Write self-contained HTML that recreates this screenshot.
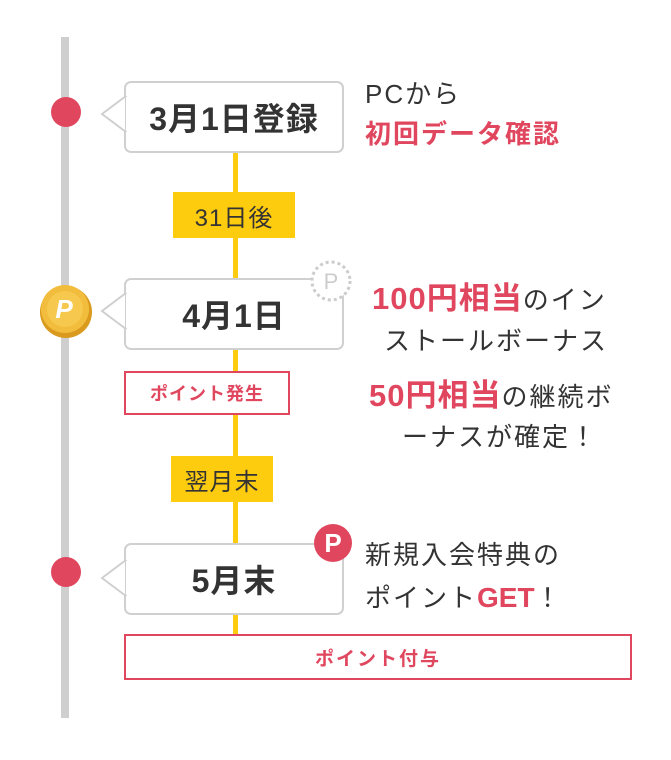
<!DOCTYPE html>
<html><head><meta charset="utf-8"><style>
body{margin:0;width:671px;height:760px;background:#fff;position:relative;overflow:hidden;font-family:"Liberation Sans","Noto Sans CJK JP",sans-serif;color:#333}
.a{position:absolute}
.box{position:absolute;left:124px;width:216px;height:68px;border:2px solid #d0d0d0;border-radius:7px;background:#fff;display:flex;align-items:center;justify-content:center;font-weight:bold;font-size:32px;letter-spacing:1px;color:#333}
.yl{position:absolute;background:#fecc0f;display:flex;align-items:center;justify-content:center;font-size:24px;letter-spacing:1px;color:#333}
.pk{position:absolute;border:2px solid #e0475f;display:flex;align-items:center;justify-content:center;color:#e0475f;font-weight:bold;font-size:19px;letter-spacing:2px;background:#fff}
.t{position:absolute;font-size:26px;color:#333;white-space:nowrap;letter-spacing:2px}
.r{color:#e0475f;font-weight:bold}
</style></head><body>
<div class="a" style="left:61px;top:37px;width:8px;height:681px;background:#cfcfcf"></div>
<div class="a" style="left:233px;top:151px;width:5px;height:484px;background:#fecc0f"></div>

<div class="a" style="left:51px;top:97px;width:30px;height:30px;border-radius:50%;background:#e0475f"></div>
<div class="box" style="top:81px">3月1日登録</div>
<svg class="a" style="left:100px;top:96px" width="28" height="36"><polygon points="26,0 2,18 26,36" fill="#fff" stroke="#d0d0d0" stroke-width="2"/><rect x="26" y="1" width="3" height="34" fill="#fff"/></svg>

<div class="yl" style="left:173px;top:192px;width:122px;height:46px">31日後</div>

<div class="box" style="top:278px">4月1日</div>
<svg class="a" style="left:100px;top:293px" width="28" height="36"><polygon points="26,0 2,18 26,36" fill="#fff" stroke="#d0d0d0" stroke-width="2"/><rect x="26" y="1" width="3" height="34" fill="#fff"/></svg>
<svg class="a" style="left:309px;top:259px" width="44" height="44"><circle cx="22" cy="22" r="19" fill="#fff" stroke="#ccc" stroke-width="3" stroke-dasharray="3 3"/><text x="22" y="30" text-anchor="middle" font-size="22" fill="#ccc" font-family="Liberation Sans">P</text></svg>
<svg class="a" style="left:37px;top:283px" width="58" height="56"><circle cx="29" cy="29" r="26" fill="#d99a1e"/><circle cx="28" cy="26" r="24" fill="#f2bd3c"/><circle cx="28" cy="26" r="18" fill="#f6c94e"/><text x="27" y="35" text-anchor="middle" font-size="26" font-weight="bold" font-style="italic" fill="#fff" font-family="Liberation Sans">P</text></svg>

<div class="pk" style="left:124px;top:371px;width:162px;height:40px;font-size:18px;letter-spacing:1px">ポイント発生</div>
<div class="yl" style="left:171px;top:456px;width:102px;height:46px">翌月末</div>

<div class="a" style="left:51px;top:557px;width:30px;height:30px;border-radius:50%;background:#e0475f"></div>
<div class="box" style="top:543px">5月末</div>
<svg class="a" style="left:100px;top:560px" width="28" height="36"><polygon points="26,0 2,18 26,36" fill="#fff" stroke="#d0d0d0" stroke-width="2"/><rect x="26" y="1" width="3" height="34" fill="#fff"/></svg>
<div class="a" style="left:314px;top:524px;width:38px;height:38px;border-radius:50%;background:#e0475f;color:#fff;font-size:26px;font-weight:bold;text-align:center;line-height:38px">P</div>

<div class="pk" style="left:124px;top:634px;width:504px;height:42px">ポイント付与</div>

<div class="t" style="left:365px;top:74px">PCから</div>
<div class="t r" style="left:365px;top:114px">初回データ確認</div>
<div class="t" style="left:372px;top:273px"><span class="r" style="font-size:31px;letter-spacing:1px">100円相当</span>のイン</div>
<div class="t" style="left:384px;top:321px">ストールボーナス</div>
<div class="t" style="left:369px;top:370px"><span class="r" style="font-size:31px;letter-spacing:1px">50円相当</span>の継続ボ</div>
<div class="t" style="left:402px;top:417px">ーナスが確定！</div>
<div class="t" style="left:365px;top:535px">新規入会特典の</div>
<div class="t" style="left:365px;top:578px">ポイント<span class="r" style="font-size:28px;letter-spacing:0">GET</span>！</div>
</body></html>
